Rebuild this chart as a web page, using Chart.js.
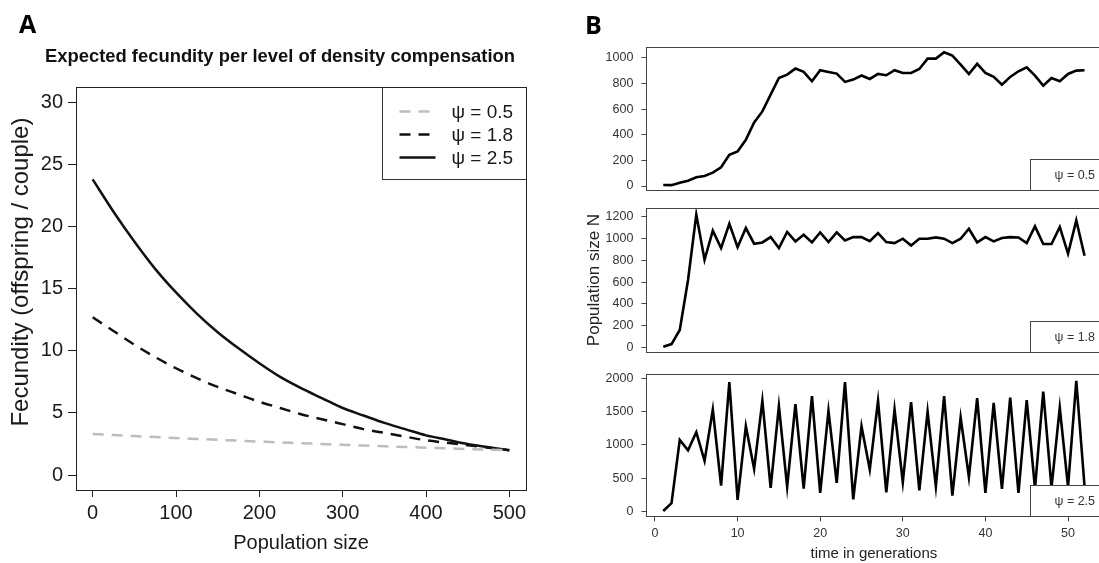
<!DOCTYPE html>
<html><head><meta charset="utf-8">
<script src="https://cdn.jsdelivr.net/npm/chart.js@4.4.0/dist/chart.umd.min.js"></script>
<style>
html,body{margin:0;padding:0;background:#fff;overflow:hidden;width:1099px;height:563px;}
canvas{position:absolute;top:0;}
</style></head><body>
<canvas id="cA" width="560" height="563" style="left:0px"></canvas>
<canvas id="cB1" width="580" height="563" style="left:560px"></canvas>
<canvas id="cB2" width="580" height="563" style="left:560px"></canvas>
<canvas id="cB3" width="580" height="563" style="left:560px"></canvas>
<script>
// ---------- Panel A data ----------
const popSizeA = [0,25,50,75,100,125,150,175,200,225,250,275,300,325,350,375,400,425,450,475,500];
const fecPsi05 = [3.30,3.22,3.14,3.06,2.98,2.91,2.84,2.77,2.70,2.63,2.57,2.50,2.44,2.38,2.32,2.27,2.21,2.16,2.10,2.05,2.00];
const fecPsi18 = [12.7,11.6,10.5,9.5,8.6,7.8,7.1,6.5,5.9,5.4,4.9,4.5,4.1,3.7,3.4,3.1,2.8,2.6,2.4,2.2,2.0];
const fecPsi25 = [23.8,21.2,18.8,16.6,14.7,13.0,11.5,10.2,9.0,7.9,7.0,6.2,5.4,4.8,4.2,3.7,3.2,2.85,2.5,2.25,2.0];
const xTicksA = [0,100,200,300,400,500];
const yTicksA = [0,5,10,15,20,25,30];
const seriesLabelsA = ['\u03C8 = 0.5','\u03C8 = 1.8','\u03C8 = 2.5'];

// ---------- Panel B data ----------
const generations = [1,2,3,4,5,6,7,8,9,10,11,12,13,14,15,16,17,18,19,20,21,22,23,24,25,26,27,28,29,30,31,32,33,34,35,36,37,38,39,40,41,42,43,44,45,46,47,48,49,50,51,52];
const popPsi05 = [8,7,26,42,68,78,104,146,243,269,360,496,582,713,843,869,916,890,817,903,890,877,812,830,862,835,874,864,903,882,882,913,994,994,1044,1018,947,874,953,882,851,791,851,895,926,861,783,843,817,874,900,903];
const popPsi18 = [6,30,160,620,1222,806,1074,914,1138,923,1098,954,966,1015,914,1062,975,1037,966,1058,969,1058,984,1015,1015,978,1052,969,960,1000,938,1000,1000,1012,1000,960,1000,1092,966,1015,975,1006,1015,1012,960,1114,951,951,1108,862,1169,843];
const popPsi25 = [10,126,1075,920,1190,760,1530,390,1940,175,1280,640,1660,355,1580,370,1610,345,1730,280,1510,430,1940,185,1280,630,1660,290,1530,440,1640,320,1500,380,1730,240,1410,520,1700,280,1630,340,1710,280,1670,350,1800,360,1560,370,1960,380];
const xTicksB = [0,10,20,30,40,50];
const yTicksB05 = [0,200,400,600,800,1000];
const yTicksB18 = [0,200,400,600,800,1000,1200];
const yTicksB25 = [0,500,1000,1500,2000];
const seriesLabelsB = ['\u03C8 = 0.5','\u03C8 = 1.8','\u03C8 = 2.5'];

const FAM = "'Liberation Sans', Arial, sans-serif";
Chart.defaults.font.family = FAM;

const framePlugin = {
  id: 'frame',
  afterDraw(chart, args, o) {
    const {ctx, chartArea: a} = chart;
    ctx.save();
    ctx.strokeStyle = o.color || '#222';
    ctx.lineWidth = 1;
    const l = Math.round(a.left) + 0.5, t = Math.round(a.top) + 0.5;
    ctx.strokeRect(l, t, Math.round(a.right) - Math.round(a.left), Math.round(a.bottom) - Math.round(a.top));
    ctx.restore();
  }
};

const legendBoxPlugin = {
  id: 'legendBox',
  afterDatasetsDraw(chart, args, o) {
    if (!o || !o.mode) return;
    const {ctx, chartArea: a} = chart;
    ctx.save();
    if (o.mode === 'lines') {
      const x0 = Math.round(a.right - o.w) + 0.5, y0 = Math.round(a.top) + 0.5;
      ctx.fillStyle = '#fff';
      ctx.fillRect(x0, y0, o.w, o.h);
      ctx.strokeStyle = o.border; ctx.lineWidth = 1;
      ctx.strokeRect(x0, y0, o.w, o.h);
      chart.data.datasets.forEach((ds, i) => {
        const y = y0 + o.firstY + i * o.step;
        ctx.beginPath();
        ctx.setLineDash(ds.borderDash || []);
        ctx.strokeStyle = ds.borderColor; ctx.lineWidth = ds.borderWidth;
        ctx.moveTo(x0 + o.lineX0, y); ctx.lineTo(x0 + o.lineX1, y); ctx.stroke();
        ctx.setLineDash([]);
        ctx.fillStyle = o.color; ctx.font = o.font;
        ctx.textBaseline = 'middle'; ctx.textAlign = 'left';
        ctx.fillText(ds.label, x0 + o.textX, y + 1);
      });
    } else {
      const x0 = Math.round(a.right - o.w) + 0.5, y0 = Math.round(a.bottom - o.h) + 0.5;
      ctx.fillStyle = '#fff';
      ctx.fillRect(x0, y0, o.w + 20, o.h);
      ctx.strokeStyle = o.border; ctx.lineWidth = 1;
      ctx.strokeRect(x0, y0, o.w + 20, o.h);
      ctx.fillStyle = o.color; ctx.font = o.font;
      ctx.textBaseline = 'middle'; ctx.textAlign = 'left';
      ctx.fillText(chart.data.datasets[0].label, x0 + o.textX, y0 + o.h / 2 + 1);
    }
    ctx.restore();
  }
};

const letterPlugin = {
  id: 'panelLetter',
  afterDraw(chart, args, o) {
    if (!o || !o.text) return;
    const ctx = chart.ctx;
    ctx.save();
    ctx.fillStyle = '#000';
    ctx.font = "bold 25px 'Open Sans', " + FAM;
    ctx.textBaseline = 'alphabetic'; ctx.textAlign = 'left';
    ctx.fillText(o.text, o.x, o.y);
    ctx.restore();
  }
};

function fixedTicks(arr) { return s => { s.ticks = arr.map(v => ({value: v})); }; }
const plainLabel = v => String(v);

// ---------------- Panel A ----------------
const fontA = {family: FAM, size: 20};
const colA = '#1a1a1a';
new Chart(document.getElementById('cA'), {
  type: 'line',
  data: {
    datasets: [
      {label: seriesLabelsA[0], data: popSizeA.map((n, i) => ({x: n, y: fecPsi05[i]})), borderColor: '#bdbdbd', borderDash: [11, 8], borderWidth: 2.5},
      {label: seriesLabelsA[1], data: popSizeA.map((n, i) => ({x: n, y: fecPsi18[i]})), borderColor: '#111', borderDash: [11, 8], borderWidth: 2.5},
      {label: seriesLabelsA[2], data: popSizeA.map((n, i) => ({x: n, y: fecPsi25[i]})), borderColor: '#111', borderWidth: 2.5}
    ].map(d => Object.assign(d, {pointRadius: 0, fill: false, cubicInterpolationMode: 'monotone', xAxisID: 'x', yAxisID: 'y'}))
  },
  options: {
    responsive: false, animation: false, devicePixelRatio: 1,
    layout: {padding: 0},
    events: [],
    plugins: {
      legend: {display: false}, tooltip: {enabled: false},
      title: {display: true, text: 'Expected fecundity per level of density compensation',
        font: {family: FAM, size: 18.4, weight: 'bold'}, color: '#111',
        padding: {top: 46, bottom: 19.4}},
      frame: {color: '#222'},
      legendBox: {mode: 'lines', w: 144, h: 92, firstY: 24, step: 23, lineX0: 17, lineX1: 53, textX: 69,
        font: "19px " + FAM, color: colA, border: '#333'},
      panelLetter: {text: 'A', x: 19, y: 33}
    },
    scales: {
      x: {type: 'linear', min: -20, max: 520, afterBuildTicks: fixedTicks(xTicksA),
        afterFit: s => { s.height = 73; },
        ticks: {font: fontA, color: colA, padding: 4, maxRotation: 0, autoSkip: false, callback: plainLabel},
        grid: {display: true, drawOnChartArea: false, drawTicks: true, tickLength: 7, color: '#222'},
        border: {display: false},
        title: {display: true, text: 'Population size', font: fontA, color: colA, padding: {top: 0, bottom: 8}}},
      y: {type: 'linear', position: 'left', min: -1.2, max: 31.2, afterBuildTicks: fixedTicks(yTicksA),
        afterFit: s => { s.width = 76; },
        ticks: {font: fontA, color: colA, padding: 5, autoSkip: false, callback: plainLabel},
        grid: {display: true, drawOnChartArea: false, drawTicks: true, tickLength: 8, color: '#222'},
        border: {display: false},
        title: {display: true, text: '     Fecundity (offspring / couple)', font: {family: FAM, size: 24}, color: colA, padding: {top: 7, bottom: 0}}},
      yR: {type: 'linear', position: 'right', display: true,
        afterFit: s => { s.width = 34; },
        ticks: {display: false}, grid: {display: false}, border: {display: false}}
    }
  },
  plugins: [framePlugin, legendBoxPlugin, letterPlugin]
});

// ---------------- Panel B ----------------
const fontB = {family: FAM, size: 12.5};
const colB = '#333';
function makeB(id, values, label, yTicks, yMin, yMax, pad, opts) {
  const showX = !!opts.showX;
  return new Chart(document.getElementById(id), {
    type: 'line',
    data: {datasets: [{label: label, data: generations.map((g, i) => ({x: g, y: values[i]})),
      borderColor: '#000', borderWidth: 2.6, pointRadius: 0, fill: false, tension: 0, borderJoinStyle: 'miter'}]},
    options: {
      responsive: false, animation: false, devicePixelRatio: 1, events: [],
      layout: {padding: pad},
      plugins: {
        legend: {display: false}, tooltip: {enabled: false},
        frame: {color: '#444'},
        legendBox: {mode: 'text', w: 71.4, h: 31, textX: 24, font: "12.5px " + FAM, color: colB, border: '#444'},
        panelLetter: opts.letter ? {text: opts.letter, x: 25, y: 34} : {}
      },
      scales: {
        x: {type: 'linear', min: -1.04, max: 54.04, display: showX, afterBuildTicks: fixedTicks(xTicksB),
          afterFit: s => { if (showX) s.height = 46.7; },
          ticks: {font: fontB, color: colB, padding: 5, maxRotation: 0, autoSkip: false, callback: plainLabel},
          grid: {display: true, drawOnChartArea: false, drawTicks: true, tickLength: 5, color: '#444'},
          border: {display: false},
          title: {display: true, text: 'time in generations', font: {family: FAM, size: 15}, color: '#222', padding: {top: 0, bottom: 0}}},
        y: {type: 'linear', min: yMin, max: yMax, afterBuildTicks: fixedTicks(yTicks),
          afterFit: s => { s.width = 86.4; },
          ticks: {font: fontB, color: colB, padding: 8, autoSkip: false, callback: plainLabel},
          grid: {display: true, drawOnChartArea: false, drawTicks: true, tickLength: 5, color: '#444'},
          border: {display: false},
          title: {display: !!opts.yTitle, text: opts.yTitle || '', font: {family: FAM, size: 17}, color: '#222', padding: {top: 24.2, bottom: 0}}}
      }
    },
    plugins: [framePlugin, legendBoxPlugin, letterPlugin]
  });
}
makeB('cB1', popPsi05, seriesLabelsB[0], yTicksB05, -31, 1082, {top: 47.3, bottom: 373, left: 0, right: 38.6}, {letter: 'B'});
makeB('cB2', popPsi18, seriesLabelsB[1], yTicksB18, -40, 1280, {top: 208.3, bottom: 211.3, left: 0, right: 38.6}, {yTitle: 'Population size N'});
makeB('cB3', popPsi25, seriesLabelsB[2], yTicksB25, -70, 2070, {top: 373.5, bottom: 0, left: 0, right: 38.6}, {showX: true});
</script>
</body></html>
